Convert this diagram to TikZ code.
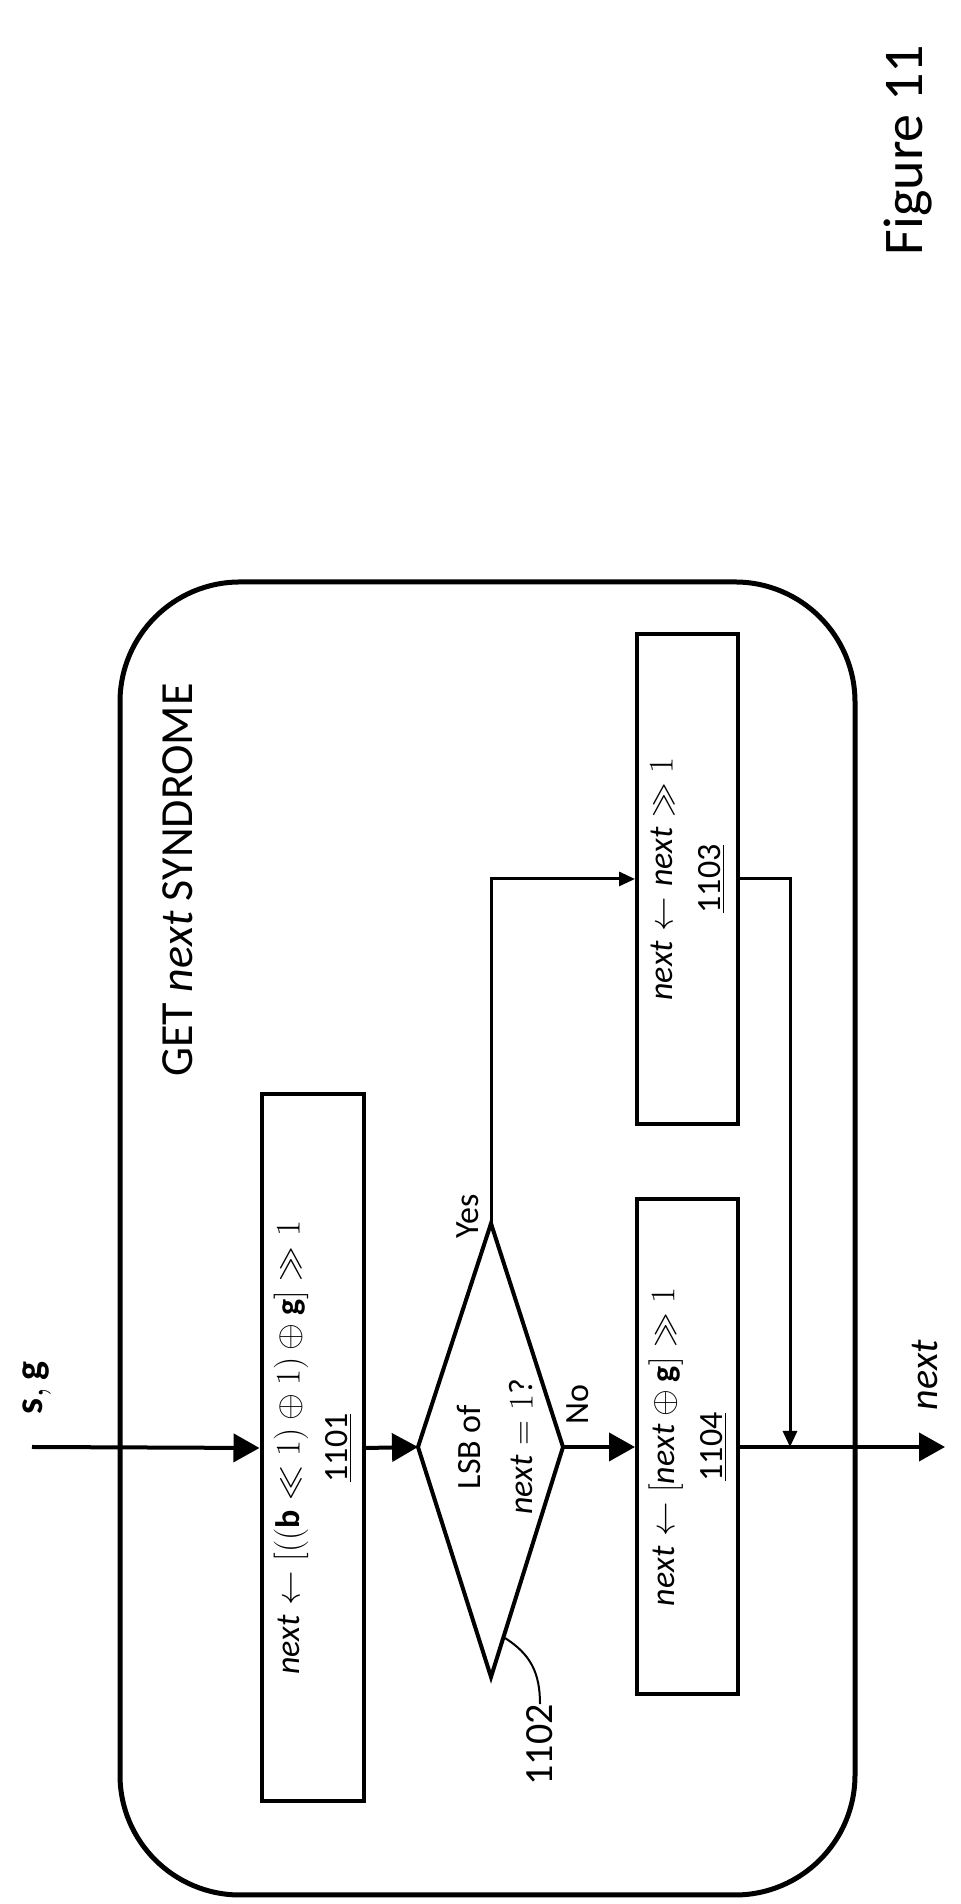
\documentclass[tikz,border=0pt]{standalone}
\usepackage{fontspec}
\setmainfont{Carlito}
\usetikzlibrary{arrows.meta}
\begin{document}
\begin{tikzpicture}[x=0.5pt,y=0.5pt,
  procbox/.style={draw,line width=2pt,rotate=90,inner sep=0pt,align=center,font=\fontsize{17}{24}\selectfont},
  lbl/.style={rotate=90,inner sep=0pt},
  big/.style={line width=2pt,-{Triangle[length=13pt,width=14pt]}},
  small/.style={line width=1.5pt,-{Triangle[length=8pt,width=7pt]}}]
\useasboundingbox (0,0) rectangle (960,1904);
\draw[line width=2.5pt,rounded corners=60pt] (120,9) rectangle (855,1322);
\node[lbl,font=\fontsize{23}{27}\selectfont] (title) at (178,1024) {GET $\mathit{next}$ SYNDROME};
\node[lbl,font=\fontsize{28}{32}\selectfont] (fig) at (908,1754) {Figure 11};
\node[procbox,minimum width=353.5pt,minimum height=51.25pt] (b1101) at (312.75,456)
  {$\mathit{next}\leftarrow\bigl[\bigl((\mathbf{b}\ll 1)\oplus 1\bigr)\oplus\mathbf{g}\bigr]\gg 1$\\ \underline{1101}};
\node[procbox,minimum width=247.5pt,minimum height=50.5pt] (b1104) at (687.5,457)
  {$\mathit{next}\leftarrow\left[\mathit{next}\oplus\mathbf{g}\right]\gg 1$\\ \underline{1104}};
\node[procbox,minimum width=245pt,minimum height=50.5pt] (b1103) at (687.5,1025)
  {$\mathit{next}\leftarrow\mathit{next}\gg 1$\\ \underline{1103}};
\coordinate (dl) at (418,457);
\coordinate (dr) at (563,457);
\coordinate (dt) at (491,680.5);
\coordinate (db) at (491,227);
\draw[line width=2pt,line join=miter] (dl)--(dt)--(dr)--(db)--cycle;
\node[lbl,align=center,font=\fontsize{17}{26}\selectfont] (dtext) at (495,457) {LSB of\\ $\mathit{next}=1$?};
\node[lbl,font=\fontsize{17}{20}\selectfont] (yes) at (468,688) {Yes};
\node[lbl,font=\fontsize{17}{20}\selectfont] (no) at (578,499) {No};
\node[lbl,font=\fontsize{20}{24}\selectfont] (r1102) at (540,159) {1102};
\draw[line width=1pt] (505,266) .. controls (530,250) and (540,232) .. (r1102.east);
\node[lbl,font=\fontsize{20}{24}\selectfont] (sg) at (37,516) {$\mathbf{s},\mathbf{g}$};
\node[lbl,font=\fontsize{20}{24}\selectfont] (nx) at (925,529) {$\mathit{next}$};
\coordinate (in) at (32,457);
\coordinate (out) at (945,457);
\coordinate (ytop) at (491,1025);
\coordinate (rtop) at (790,1025);
\coordinate (rbot) at (790,457);
\draw[big] (in) -- (b1101.north);
\draw[big] (b1101.south) -- (dl);
\draw[big] (dr) -- (b1104.north);
\draw[big] (b1104.south) -- (out);
\draw[small] (dt) -- (ytop) -- (b1103.north);
\draw[small] (b1103.south) -- (rtop) -- (rbot);
\end{tikzpicture}
\end{document}
